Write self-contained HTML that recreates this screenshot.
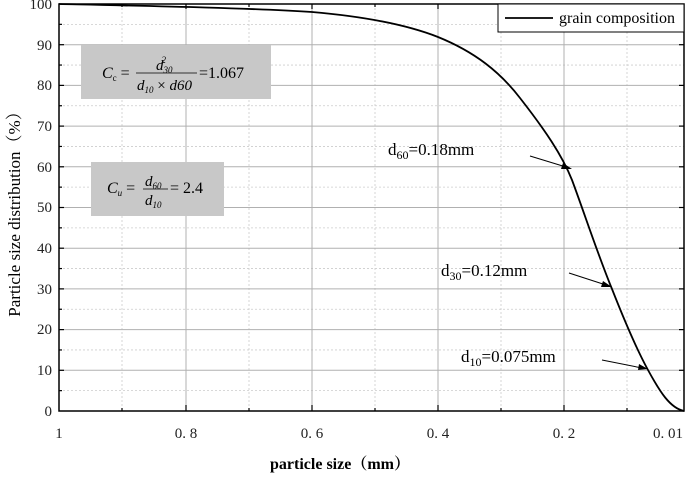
<!DOCTYPE html>
<html><head><meta charset="utf-8"><style>
body{margin:0;background:#fff;width:685px;height:475px;overflow:hidden}
svg{font-family:"Liberation Serif","Noto Serif CJK SC",serif}
</style></head><body>
<svg width="685" height="475" viewBox="0 0 685 475">
<g stroke="#ccc" stroke-dasharray="2,2" stroke-width="0.8">
<line x1="122" y1="4" x2="122" y2="411"/><line x1="249" y1="4" x2="249" y2="411"/><line x1="375" y1="4" x2="375" y2="411"/><line x1="501" y1="4" x2="501" y2="411"/><line x1="627" y1="4" x2="627" y2="411"/>
<line x1="59" y1="24.35" x2="684" y2="24.35"/><line x1="59" y1="65.05" x2="684" y2="65.05"/><line x1="59" y1="105.75" x2="684" y2="105.75"/><line x1="59" y1="146.45" x2="684" y2="146.45"/><line x1="59" y1="187.15" x2="684" y2="187.15"/><line x1="59" y1="227.85" x2="684" y2="227.85"/><line x1="59" y1="268.55" x2="684" y2="268.55"/><line x1="59" y1="309.25" x2="684" y2="309.25"/><line x1="59" y1="349.95" x2="684" y2="349.95"/><line x1="59" y1="390.65" x2="684" y2="390.65"/>
</g>
<g stroke="#b0b0b0" stroke-width="1">
<line x1="186" y1="4" x2="186" y2="411"/><line x1="312" y1="4" x2="312" y2="411"/><line x1="438" y1="4" x2="438" y2="411"/><line x1="564" y1="4" x2="564" y2="411"/>
<line x1="59" y1="44.7" x2="684" y2="44.7"/><line x1="59" y1="85.4" x2="684" y2="85.4"/><line x1="59" y1="126.1" x2="684" y2="126.1"/><line x1="59" y1="166.8" x2="684" y2="166.8"/><line x1="59" y1="207.5" x2="684" y2="207.5"/><line x1="59" y1="248.2" x2="684" y2="248.2"/><line x1="59" y1="288.9" x2="684" y2="288.9"/><line x1="59" y1="329.6" x2="684" y2="329.6"/><line x1="59" y1="370.3" x2="684" y2="370.3"/>
</g>
<rect x="59" y="4" width="625" height="407" fill="none" stroke="#000" stroke-width="1.5"/>
<g stroke="#000" stroke-width="1.2">
<line x1="59" y1="44.7" x2="64" y2="44.7"/><line x1="59" y1="85.4" x2="64" y2="85.4"/><line x1="59" y1="126.1" x2="64" y2="126.1"/><line x1="59" y1="166.8" x2="64" y2="166.8"/><line x1="59" y1="207.5" x2="64" y2="207.5"/><line x1="59" y1="248.2" x2="64" y2="248.2"/><line x1="59" y1="288.9" x2="64" y2="288.9"/><line x1="59" y1="329.6" x2="64" y2="329.6"/><line x1="59" y1="370.3" x2="64" y2="370.3"/>
<line x1="59" y1="24.35" x2="62" y2="24.35"/><line x1="59" y1="65.05" x2="62" y2="65.05"/><line x1="59" y1="105.75" x2="62" y2="105.75"/><line x1="59" y1="146.45" x2="62" y2="146.45"/><line x1="59" y1="187.15" x2="62" y2="187.15"/><line x1="59" y1="227.85" x2="62" y2="227.85"/><line x1="59" y1="268.55" x2="62" y2="268.55"/><line x1="59" y1="309.25" x2="62" y2="309.25"/><line x1="59" y1="349.95" x2="62" y2="349.95"/><line x1="59" y1="390.65" x2="62" y2="390.65"/>
<line x1="684" y1="44.7" x2="679" y2="44.7"/><line x1="684" y1="85.4" x2="679" y2="85.4"/><line x1="684" y1="126.1" x2="679" y2="126.1"/><line x1="684" y1="166.8" x2="679" y2="166.8"/><line x1="684" y1="207.5" x2="679" y2="207.5"/><line x1="684" y1="248.2" x2="679" y2="248.2"/><line x1="684" y1="288.9" x2="679" y2="288.9"/><line x1="684" y1="329.6" x2="679" y2="329.6"/><line x1="684" y1="370.3" x2="679" y2="370.3"/>
<line x1="186" y1="411" x2="186" y2="405"/><line x1="312" y1="411" x2="312" y2="405"/><line x1="438" y1="411" x2="438" y2="405"/><line x1="564" y1="411" x2="564" y2="405"/>
<line x1="122" y1="411" x2="122" y2="408"/><line x1="249" y1="411" x2="249" y2="408"/><line x1="375" y1="411" x2="375" y2="408"/><line x1="501" y1="411" x2="501" y2="408"/><line x1="627" y1="411" x2="627" y2="408"/>
<line x1="186" y1="4" x2="186" y2="9"/><line x1="312" y1="4" x2="312" y2="9"/><line x1="438" y1="4" x2="438" y2="9"/><line x1="564" y1="4" x2="564" y2="9"/>
<line x1="122" y1="4" x2="122" y2="7"/><line x1="249" y1="4" x2="249" y2="7"/><line x1="375" y1="4" x2="375" y2="7"/><line x1="501" y1="4" x2="501" y2="7"/>
</g>
<g font-size="15" text-anchor="end" fill="#222">
<text x="52" y="9">100</text><text x="52" y="50">90</text><text x="52" y="90">80</text><text x="52" y="131">70</text><text x="52" y="172">60</text><text x="52" y="212">50</text><text x="52" y="253">40</text><text x="52" y="294">30</text><text x="52" y="334">20</text><text x="52" y="375">10</text><text x="52" y="416">0</text>
</g>
<g font-size="15" text-anchor="middle" fill="#222">
<text x="59" y="438">1</text><text x="186" y="438">0. 8</text><text x="312" y="438">0. 6</text><text x="438" y="438">0. 4</text><text x="564" y="438">0. 2</text><text x="668" y="438">0. 01</text>
</g>
<text x="340" y="469" font-size="16" font-weight="bold" text-anchor="middle">particle size（mm）</text>
<text transform="translate(20,210) rotate(-90)" font-size="17" text-anchor="middle">Particle size distribution（%）</text>
<rect x="81" y="45" width="190" height="54" fill="#c8c8c8"/>
<rect x="91" y="162" width="133" height="54" fill="#c8c8c8"/>
<g font-size="16" font-style="italic">
<text x="102" y="78">C<tspan font-size="9" font-style="normal" dy="3">c</tspan><tspan dy="-3" font-style="normal"> =</tspan></text>
<text x="156" y="70" font-size="15">d<tspan font-size="9" dy="3">30</tspan><tspan font-size="9" dy="-10" dx="-11">2</tspan></text>
<line x1="136" y1="73" x2="197" y2="73" stroke="#000" stroke-width="0.8"/>
<text x="137" y="90" font-size="15">d<tspan font-size="9" dy="3">10</tspan><tspan dy="-3" font-style="normal"> × </tspan>d60</text>
<text x="199" y="78" font-style="normal">=1.067</text>
<text x="107" y="193">C<tspan font-size="9" dy="3">u</tspan><tspan dy="-3" font-style="normal"> =</tspan></text>
<text x="145" y="186" font-size="15">d<tspan font-size="9" dy="3">60</tspan></text>
<line x1="143" y1="189" x2="168" y2="189" stroke="#000" stroke-width="0.8"/>
<text x="145" y="205" font-size="15">d<tspan font-size="9" dy="3">10</tspan></text>
<text x="170" y="193" font-style="normal">= 2.4</text>
</g>
<path d="M59,4 C150,6 250,8 312,12 C370,17 410,26 438,37 C475,52 500,72 520,98 C545,130 562,155 572,180 C585,215 598,255 612,289 C625,322 637,350 648,370 C660,392 670,408 684,411" fill="none" stroke="#000" stroke-width="1.8"/>
<rect x="498" y="4" width="186" height="28" fill="#fff" stroke="#000" stroke-width="1"/>
<line x1="505" y1="18" x2="553" y2="18" stroke="#000" stroke-width="1.8"/>
<text x="559" y="23" font-size="16">grain composition</text>
<g font-size="17">
<text x="388" y="155">d<tspan font-size="12" dy="4">60</tspan><tspan dy="-4">=0.18mm</tspan></text>
<text x="441" y="276">d<tspan font-size="12" dy="4">30</tspan><tspan dy="-4">=0.12mm</tspan></text>
<text x="461" y="362">d<tspan font-size="12" dy="4">10</tspan><tspan dy="-4">=0.075mm</tspan></text>
</g>
<g stroke="#000" stroke-width="1">
<line x1="530" y1="156" x2="566" y2="167"/><line x1="569" y1="273" x2="606" y2="285"/><line x1="602" y1="360" x2="642" y2="368"/>
</g>
<g fill="#000">
<polygon points="572,169 563,163 561,169"/><polygon points="612,287 603,281 601,287"/><polygon points="648,369 639,364 638,370"/>
</g>
</svg>
</body></html>
